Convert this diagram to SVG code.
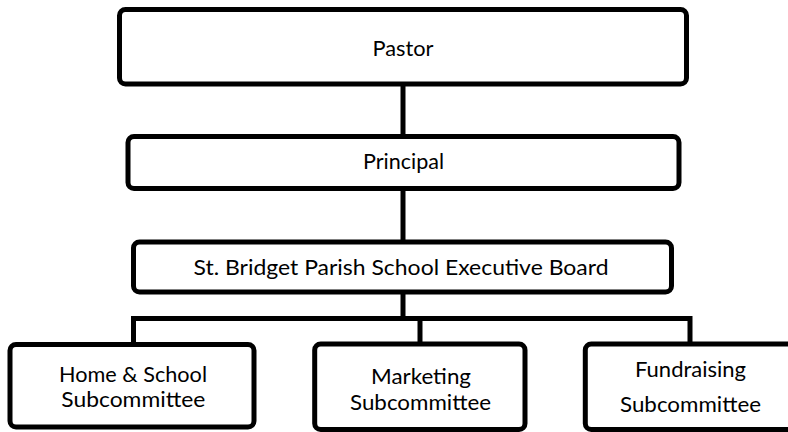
<svg xmlns="http://www.w3.org/2000/svg" width="788" height="432" viewBox="0 0 788 432">
  <style>
    .box { fill: #ffffff; stroke: #000000; stroke-width: 5; }
    .wire { fill: none; stroke: #000000; stroke-width: 5; stroke-linejoin: miter; stroke-linecap: butt; }
    .label { font-family: Lato, "Open Sans", "Liberation Sans", sans-serif; font-size: 22px; fill: #000000; text-anchor: middle; }
  </style>
  <rect width="788" height="432" fill="#ffffff"/>

  <g id="connectors">
    <line class="wire" x1="403" y1="84" x2="403" y2="136.5"/>
    <line class="wire" x1="403" y1="188.5" x2="403" y2="242"/>
    <line class="wire" x1="403" y1="292" x2="403" y2="318.5"/>
    <path class="wire" d="M133.5,344.5 V318.5 H690 V344"/>
    <line class="wire" x1="420" y1="318.5" x2="420" y2="344"/>
  </g>

  <g id="pastor">
    <rect class="box" x="119.5" y="9.5" width="567" height="74.5" rx="6"/>
    <text class="label" x="403" y="56" textLength="61" lengthAdjust="spacingAndGlyphs">Pastor</text>
  </g>

  <g id="principal">
    <rect class="box" x="128" y="136.5" width="551" height="52" rx="6"/>
    <text class="label" x="403.5" y="169" textLength="81" lengthAdjust="spacingAndGlyphs">Principal</text>
  </g>

  <g id="executive-board">
    <rect class="box" x="133.5" y="242" width="538" height="50" rx="6"/>
    <text class="label" x="401" y="275" textLength="415" lengthAdjust="spacingAndGlyphs">St. Bridget Parish School Executive Board</text>
  </g>

  <g id="home-school">
    <rect class="box" x="10" y="344.5" width="244" height="82.5" rx="6"/>
    <text class="label" x="133" y="381.5" textLength="148" lengthAdjust="spacingAndGlyphs">Home &amp; School</text>
    <text class="label" x="133.3" y="406.5" textLength="144" lengthAdjust="spacingAndGlyphs">Subcommittee</text>
  </g>

  <g id="marketing">
    <rect class="box" x="314.7" y="344" width="210.3" height="85.5" rx="6"/>
    <text class="label" x="421" y="384" textLength="100" lengthAdjust="spacingAndGlyphs">Marketing</text>
    <text class="label" x="420.5" y="410" textLength="141" lengthAdjust="spacingAndGlyphs">Subcommittee</text>
  </g>

  <g id="fundraising">
    <rect class="box" x="585.3" y="344" width="210" height="85.5" rx="6"/>
    <text class="label" x="690.5" y="376.5" textLength="111" lengthAdjust="spacingAndGlyphs">Fundraising</text>
    <text class="label" x="690.5" y="411.5" textLength="141" lengthAdjust="spacingAndGlyphs">Subcommittee</text>
  </g>
</svg>
